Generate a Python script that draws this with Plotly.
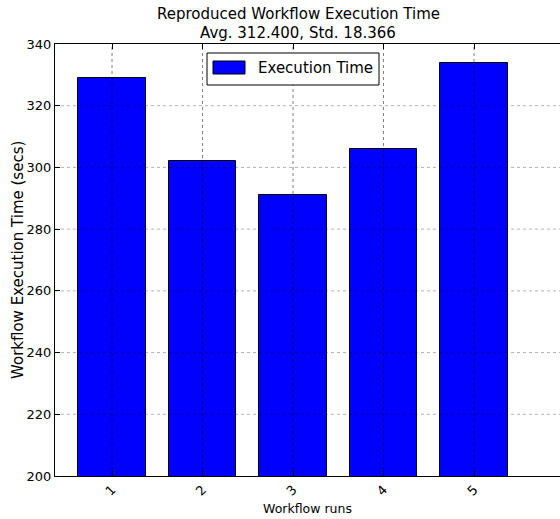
import plotly.graph_objects as go

runs = [1, 2, 3, 4, 5]
run_labels = ["1", "2", "3", "4", "5"]
exec_time = [329, 302, 291, 306, 334]
y_ticks = [200, 220, 240, 260, 280, 300, 320, 340]
legend_label = "Execution Time"
title_lines = ["Reproduced Workflow Execution Time", "Avg. 312.400, Std. 18.366"]
x_title = "Workflow runs"
y_title = "Workflow Execution Time (secs)"

FONT = "DejaVu Sans, sans-serif"
BAR_COLOR = "#0000ff"

fig = go.Figure()
fig.add_trace(go.Bar(
    x=runs, y=exec_time, width=0.75, name=legend_label,
    marker=dict(color=BAR_COLOR, line=dict(color="black", width=1)),
    showlegend=False, hoverinfo="skip",
))

# plot area in pixels: x 55..560, y 44..476
def px(xp):
    return (xp - 55) / 505.0

def py(yp):
    return (476 - yp) / 432.0

GRID = dict(color="rgba(0,0,0,0.5)", width=1, dash="dot")
shapes = []
for xv in runs:
    shapes.append(dict(type="line", xref="x", yref="paper", x0=xv, x1=xv, y0=0, y1=1,
                       line=GRID, layer="above"))
for yv in y_ticks[1:-1]:
    shapes.append(dict(type="line", xref="paper", yref="y", x0=0, x1=1, y0=yv, y1=yv,
                       line=dict(color="rgba(0,0,0,0.3)", width=1, dash="dot"), layer="above"))

shapes.append(dict(type="rect", xref="paper", yref="paper",
                   x0=px(207), x1=px(379), y0=py(85), y1=py(53),
                   line=dict(color="black", width=1), fillcolor="white", layer="above"))
shapes.append(dict(type="rect", xref="paper", yref="paper",
                   x0=px(213), x1=px(245), y0=py(74), y1=py(61),
                   line=dict(color="black", width=1), fillcolor=BAR_COLOR, layer="above"))

annotations = [
    dict(text=legend_label, xref="paper", yref="paper",
         x=px(256), y=py(68.5), xanchor="left", yanchor="middle",
         showarrow=False, font=dict(size=15)),
    dict(text=title_lines[0], xref="paper", yref="paper",
         x=px(298), y=py(14), xanchor="center", yanchor="middle",
         showarrow=False, font=dict(size=15)),
    dict(text=title_lines[1], xref="paper", yref="paper",
         x=px(298), y=py(33), xanchor="center", yanchor="middle",
         showarrow=False, font=dict(size=15)),
    dict(text=y_title, xref="paper", yref="paper",
         x=px(18), y=py(260), xanchor="center", yanchor="middle", textangle=-90,
         showarrow=False, font=dict(size=15)),
]

fig.update_layout(
    width=560, height=519,
    margin=dict(l=55, r=0, t=44, b=43),
    paper_bgcolor="white", plot_bgcolor="white",
    font=dict(family=FONT, size=13, color="black"),
    shapes=shapes,
    annotations=annotations,
    bargap=0,
    showlegend=False,
    xaxis=dict(range=[0.37, 5.95], tickmode="array", tickvals=runs, ticktext=run_labels,
               tickangle=-45, ticks="inside", ticklen=5, tickcolor="black",
               showline=True, linecolor="black", linewidth=1, mirror="ticks",
               showgrid=False, zeroline=False,
               title=dict(text=x_title, font=dict(size=12.5), standoff=6)),
    yaxis=dict(range=[200, 340], tickmode="array", tickvals=y_ticks,
               ticks="inside", ticklen=5, tickcolor="black",
               showline=True, linecolor="black", linewidth=1, mirror=False,
               showgrid=False, zeroline=False),
)

fig.write_html("out.html", post_script="document.body.style.margin='0';",
               config={"displayModeBar": False})
